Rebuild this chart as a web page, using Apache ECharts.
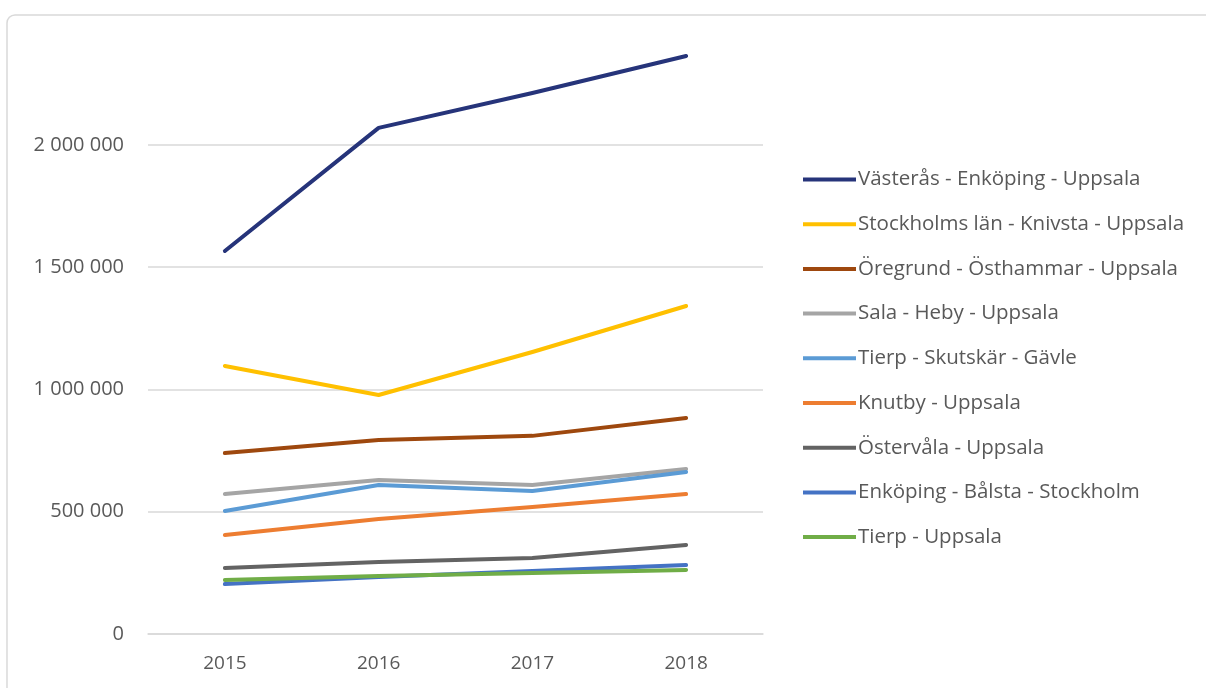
<!DOCTYPE html>
<html>
<head>
<meta charset="utf-8">
<script src="https://cdn.jsdelivr.net/npm/echarts@6/dist/echarts.min.js"></script>
<style>
html, body { margin: 0; padding: 0; background: #fff; }
#chart { width: 1206px; height: 688px; }
</style>
</head>
<body>
<div id="chart"></div>
<script>
const years = ['2015', '2016', '2017', '2018']

const routeNames = [
    'Västerås - Enköping - Uppsala',
    'Stockholms län - Knivsta - Uppsala',
    'Öregrund - Östhammar - Uppsala',
    'Sala - Heby - Uppsala',
    'Tierp - Skutskär - Gävle',
    'Knutby - Uppsala',
    'Östervåla - Uppsala',
    'Enköping - Bålsta - Stockholm',
    'Tierp - Uppsala'
]

const vasteras = [1566000, 2069000, 2212000, 2363000]
const stockholm = [1096000, 977000, 1153000, 1341000]
const oregrund = [740000, 793000, 810000, 883000]
const sala = [572000, 630000, 609000, 675000]
const tierpGavle = [503000, 609000, 585000, 662000]
const knutby = [405000, 470000, 519000, 572000]
const ostervala = [270000, 294000, 311000, 364000]
const enkoping = [204000, 233000, 258000, 282000]
const tierpUppsala = [221000, 237000, 249000, 262000]

const values = [vasteras, stockholm, oregrund, sala, tierpGavle, knutby, ostervala, enkoping, tierpUppsala]
const colors = ['#26347a', '#ffc000', '#9e480e', '#a5a5a5', '#5b9bd5', '#ed7d31', '#636363', '#4472c4', '#70ad47']

const chart = echarts.init(document.getElementById('chart'))

// later series drawn over earlier ones, like in Excel
const series = routeNames.map((name, i) => ({
    name: name,
    type: 'line',
    data: values[i],
    symbol: 'none',
    lineStyle: { width: 4, color: colors[i], cap: 'round', join: 'round' },
    itemStyle: { color: colors[i] },
    z: 2 + i
}))

chart.setOption({
    animation: false,
    graphic: [{
        type: 'rect',
        shape: { x: 7, y: 15, width: 1230, height: 700, r: 8 },
        style: { fill: 'none', stroke: '#d9d9d9', lineWidth: 1.5 },
        z: -1
    }],
    grid: { left: 148, right: 443, top: 22.5, bottom: 54 },
    legend: {
        orient: 'vertical',
        left: 803,
        top: 169,
        padding: 0,
        itemWidth: 53,
        itemHeight: 4,
        itemGap: 23.7,
        icon: 'rect',
        textStyle: { fontFamily: 'Open Sans', fontSize: 20.5, lineHeight: 21, color: '#595959', padding: [0, 0, 0, -3] },
        data: routeNames
    },
    xAxis: {
        type: 'category',
        data: years,
        boundaryGap: true,
        axisLine: { lineStyle: { color: '#d9d9d9', width: 1.5 } },
        axisTick: { show: false },
        axisLabel: { fontFamily: 'Open Sans', fontSize: 19, color: '#595959', margin: 20 }
    },
    yAxis: {
        type: 'value',
        min: 0,
        max: 2500000,
        interval: 500000,
        axisLine: { show: false },
        axisTick: { show: false },
        splitLine: { showMaxLine: false, lineStyle: { color: '#d9d9d9', width: 1.5 } },
        axisLabel: {
            showMaxLabel: false,
            fontFamily: 'Open Sans',
            fontSize: 20,
            color: '#595959',
            margin: 24,
            formatter: v => String(v).replace(/\B(?=(\d{3})+(?!\d))/g, ' ')
        }
    },
    series: series
})
</script>
</body>
</html>
